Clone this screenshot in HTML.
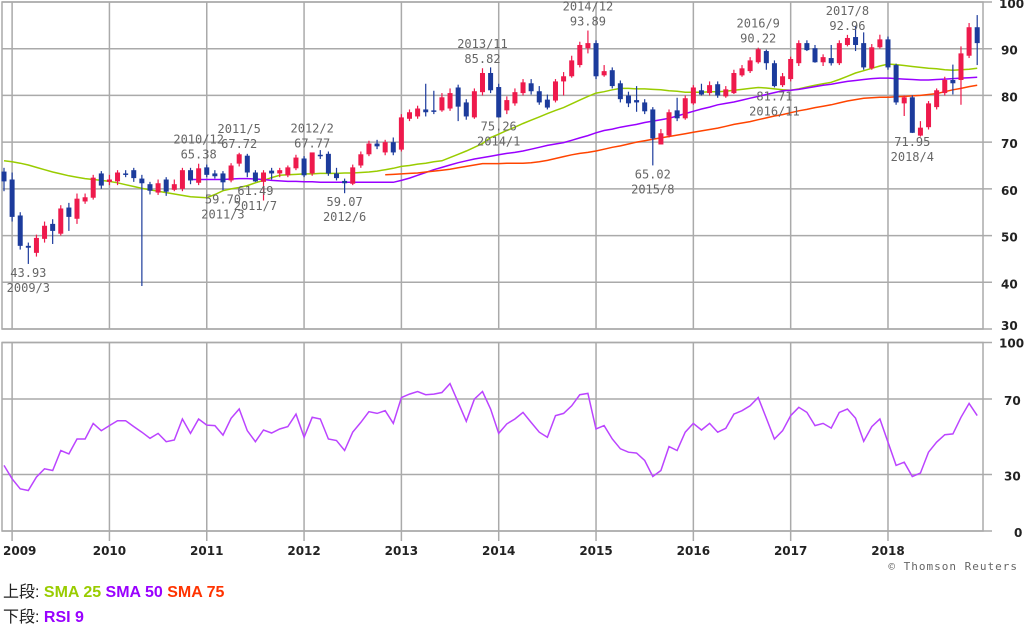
<!DOCTYPE html>
<html><head><meta charset="utf-8">
<style>
html,body{margin:0;padding:0;background:#fff;width:1024px;height:627px;overflow:hidden}
svg{display:block}
.ax{font-family:"DejaVu Sans","Liberation Sans",sans-serif;font-size:12px;fill:#222;font-weight:bold}
.ann{font-family:"DejaVu Sans Mono","Liberation Mono",monospace;font-size:12px;fill:#666}
.leg{font-family:"Liberation Sans","Noto Sans CJK JP",sans-serif;font-size:16px;font-weight:bold}
</style></head>
<body>
<svg id="chart" width="1024" height="627" xmlns="http://www.w3.org/2000/svg">
<g id="grid"></g>
<g id="mas"></g>
<g id="candles"></g>
<g id="rsi"></g>
<g id="anns"></g>
<g id="axes"></g>
<text x="1018" y="570" text-anchor="end" class="ann" style="font-size:11px;letter-spacing:1px">© Thomson Reuters</text>
<text x="3" y="597" class="leg"><tspan fill="#222" font-weight="normal">上段: </tspan><tspan fill="#99cc00">SMA 25</tspan><tspan fill="#9900ff">  SMA 50</tspan><tspan fill="#ff3300">  SMA 75</tspan></text>
<text x="3" y="622" class="leg"><tspan fill="#222" font-weight="normal">下段: </tspan><tspan fill="#9900ff">RSI 9</tspan></text>
</svg>
<script>
// monthly candles Dec 2008 .. Dec 2018
const openV=[63.7,62,54.3,47.8,46.3,49.3,52.5,50.4,56,53.6,57.3,58.1,63.3,61.5,61.6,63.3,64,62.2,61,59.2,62,59.8,60,64,61.3,64.6,63.3,63.3,61.8,65.4,67.1,63.5,61.5,63.9,63.3,62.9,64.4,66.5,63.3,67.3,67.5,63.3,61.7,61.1,65,67.4,69.7,67.8,70,68.4,75,75.5,77,76.8,76.8,77.2,81.7,78.5,75.3,80.7,84.8,81.8,76.8,78.3,80.5,82.6,80.9,79.1,78.9,83,84.1,86.5,90.1,91.2,84.3,85.4,82.6,80,79,78.5,77,69.5,71.4,76.8,75.1,78.3,81.1,80.5,82.4,79.8,80.5,84.3,85.2,87.1,89.5,86.9,82.2,83.5,86.9,91.2,90.1,87.1,88,86.9,90.8,92.5,91.2,85.8,90.3,92,86.5,78.3,79.6,71.4,73.2,77.5,80.5,83.3,83.3,88.5,94.6];
const closeV=[61.6,54,47.8,47.4,49.5,52.1,51,55.8,54,57.9,58.2,62.4,60.7,62,63.5,63,62.3,61.2,59.6,61.2,59.4,61,64,61.8,64.4,63,62.7,61.4,65,67.4,63.5,61.6,63.5,63.3,64,64.6,66.7,62.9,67.8,67,63.3,62.3,61.2,64.6,67.4,69.7,69.1,70,67.8,75.3,76.4,77.2,76.4,76.6,79.6,80.5,77.6,75.5,80.9,84.8,81.1,75.3,79,80.7,82.8,80.9,78.5,77.4,83,84.1,87.5,90.8,91.2,84.1,85.2,82,79.2,78.3,78.5,76.6,70.8,71.9,76.4,75.1,79.4,81.7,80.2,82.2,80,81.3,84.8,85.8,87.5,89.9,86.9,82,84.1,87.8,91.2,89.7,87.1,88.2,86.9,91.2,92.3,90.8,86,90.3,92,86,78.5,79.6,72,73.1,78.3,81.1,83.3,82.6,89,94.6,91.2];
const highV=[64.5,63.5,55,48.5,50.2,53,53.5,56.5,57,59,59,63,63.8,63,64,64,64.5,63,61.5,62,62.5,62,64.5,64.5,65.38,65.2,64,63.8,65.5,67.72,67.5,64,64,64.5,64.5,65,67.3,67,67.77,68.3,68,64.5,62.2,65.2,68,70.3,70.5,70.5,71,76,77,77.8,82.5,81,80.5,81.5,82.3,79.2,81.5,85.82,86,82.5,79.8,81.5,83.5,83.5,82,80.2,83.5,85,88.5,91.5,93.89,91.8,86.5,86,83.2,80.8,82,79.2,77.5,72.8,77,79.5,80,82.2,82.5,83,83,82,85.5,86.5,88.2,90.22,89.8,87.5,84.8,88.3,91.8,91.8,90.8,88.8,90.8,91.8,92.96,94.8,93.5,91,93,92.6,86.8,80,80,74.5,78.8,81.5,84,86.6,90.5,95.5,97.2];
const lowV=[59.5,53,47,43.93,45.5,48.5,48.2,50,51,52.5,56.8,57.7,60,60.8,60.8,62.5,61.5,39.2,58.8,58.7,58.5,59.5,59.5,61,60.8,62.5,62.2,59.70,61.4,64.8,62.5,61.49,57.5,62,62.5,62.5,64,62.5,62.8,66.4,62.8,61.8,59.07,60.8,64.5,67,68.5,67.2,67.2,68,74.5,75,75.5,76,76.5,76.7,74.5,74.8,75,80,80.5,75.26,76,77.8,80,80.2,78,77,78.5,80,83.8,86,89,83.5,84,81.5,78.5,77.5,76.5,76,65.02,69.5,71,74.5,74.8,78,80,80,79.5,79.5,80.3,84,84.8,86.8,85.5,81.71,81.8,83,86.3,89.5,87,86.3,86.4,86.5,90.5,89.5,85.5,85.5,90,85.5,78,75.6,71.95,71.2,72.7,77,80,80.2,78,88,86.5];
const sma25=[66,65.8,65.5,65.1,64.6,64.1,63.6,63.2,62.8,62.5,62.2,62,61.8,61.6,61.3,60.9,60.5,60.1,59.8,59.5,59.2,58.9,58.6,58.3,58.2,58.1,58.8,59.6,60,60.3,60.7,61.3,61.8,62.4,62.9,63,63.1,63.2,63.2,63.3,63.3,63.3,63.4,63.4,63.5,63.6,63.8,64.1,64.4,64.8,65,65.3,65.5,65.8,66,66.7,67.4,68.1,68.9,69.7,71,71.7,72.5,73.2,74,74.7,75.4,76.1,76.8,77.4,78.2,79,79.8,80.5,80.8,81.2,81.5,81.5,81.4,81.4,81.3,81.2,81,80.9,80.7,80.7,80.7,80.8,80.8,80.9,81.1,81.3,81.5,81.7,81.6,81.4,81.2,81.1,81.4,81.8,82.2,82.5,82.8,83.4,84.1,84.8,85.3,85.8,86.3,86.7,86.6,86.4,86.2,86,85.8,85.7,85.5,85.4,85.5,85.6,85.8];
const sma50=[null,null,null,null,null,null,null,null,null,null,null,null,null,null,null,null,null,null,null,null,null,null,null,62,62,62,62,62,62.1,62.2,62.2,62.1,62,61.8,61.7,61.6,61.6,61.5,61.5,61.4,61.4,61.4,61.4,61.4,61.4,61.4,61.4,61.4,61.4,61.8,62.3,62.9,63.5,64.1,64.6,65.1,65.6,66,66.4,66.7,67,67.3,67.6,67.8,68.1,68.5,68.9,69.3,69.6,69.9,70.4,70.9,71.4,72,72.5,72.8,73.2,73.5,73.8,74.2,74.5,74.8,75.1,75.6,76.1,76.6,77.1,77.5,78,78.3,78.6,79,79.4,79.8,80.2,80.6,81,81.1,81.3,81.6,81.9,82.2,82.4,82.7,83,83.2,83.4,83.6,83.7,83.7,83.6,83.5,83.4,83.3,83.3,83.4,83.5,83.6,83.7,83.8,83.9];
const sma75=[null,null,null,null,null,null,null,null,null,null,null,null,null,null,null,null,null,null,null,null,null,null,null,null,null,null,null,null,null,null,null,null,null,null,null,null,null,null,null,null,null,null,null,null,null,null,null,63,63.1,63.2,63.3,63.4,63.6,63.8,64,64.2,64.5,64.8,65.1,65.4,65.4,65.4,65.5,65.5,65.5,65.6,65.8,66.1,66.5,66.9,67.3,67.6,67.8,68.1,68.5,68.9,69.2,69.6,70,70.3,70.6,70.9,71.2,71.5,71.8,72.1,72.4,72.7,73,73.4,73.8,74.1,74.4,74.8,75.2,75.6,75.9,76.3,76.7,77,77.4,77.7,78,78.4,78.8,79.1,79.4,79.5,79.6,79.6,79.7,79.8,79.9,80,80.2,80.4,80.8,81.2,81.5,81.9,82.2];
const rsi9=[34.8,27.7,22.4,21.5,28.6,33,32.1,42.7,40.9,48.8,48.8,57.1,53.2,55.9,58.5,58.5,55.4,52.4,49.2,51.8,47.4,48.3,59.4,51.8,59.4,56.2,55.9,50.9,59.8,64.7,53.2,47.4,53.6,52,54.1,55.4,62,49.7,60.3,59.4,48.8,48,42.7,52.4,57.6,63.3,62.4,63.8,57.1,70.8,72.6,74,72.3,72.6,73.5,78.2,68.2,58.2,70,74,64.7,51.8,56.8,59.4,62.9,57.6,52.4,49.7,61.2,62.4,66.4,72.3,73,54.1,55.9,48.8,43.6,41.8,41.3,37.4,28.9,32.1,44.8,42.7,52.4,57.1,53.6,57.1,52.4,54.5,62,63.8,66.4,70.8,59.9,48.8,53.2,61.2,65.6,62.9,55.9,57.1,54.6,62.9,64.7,59.9,47.6,55.4,59.4,47.1,34.8,36.5,28.9,30.7,41.8,47.1,51.1,51.5,60.3,67.7,61.2];
const years=["2009","2010","2011","2012","2013","2014","2015","2016","2017","2018"];
const priceTicks=[100,90,80,70,60,50,40,30];
const rsiTicks=[100,70,30,0];
const annots=[[3,"43.93","2009/3",1],[24,"2010/12","65.38",0],[29,"2011/5","67.72",0],[27,"59.70","2011/3",1],[31,"61.49","2011/7",1],[38,"2012/2","67.77",0],[42,"59.07","2012/6",1],[59,"2013/11","85.82",0],[61,"75.26","2014/1",1],[72,"2014/12","93.89",0],[80,"65.02","2015/8",1],[93,"2016/9","90.22",0],[95,"81.71","2016/11",1],[104,"2017/8","92.96",0],[112,"71.95","2018/4",1]];

const NS="http://www.w3.org/2000/svg";
const L=2,R=983,T=2,B=329,RT=342.5,RB=531;
const xm=i=>4+8.11*i;
const yp=v=>B-(v-30)*(B-T)/70;
const yr=v=>RB-v*(RB-RT)/100;
function mk(tag,attrs,parent){const e=document.createElementNS(NS,tag);for(const k in attrs)e.setAttribute(k,attrs[k]);parent.appendChild(e);return e;}
const G=document.getElementById('grid'),A=document.getElementById('axes');
// panels
let e;
e=mk('rect',{x:L,y:T,width:R-L,height:B-T,fill:'none',stroke:'#aaa','stroke-width':1.5},G);


e=mk('rect',{x:L,y:RT,width:R-L,height:RB-RT,fill:'none',stroke:'#aaa','stroke-width':1.5},G);


years.forEach((y,k)=>{const x=xm(1+12*k);
 e=mk('line',{x1:x,x2:x,y1:T,y2:B,stroke:'#aaa','stroke-width':1.5},G);
 
 
 e=mk('line',{x1:x,x2:x,y1:RT,y2:RB+10,stroke:'#aaa','stroke-width':1.5},G);
 
 
 const t=mk('text',{x:k==0?3:x,y:555,'text-anchor':k==0?'start':'middle',class:'ax'},A);t.textContent=y;
 
 
});
priceTicks.forEach(v=>{const y=yp(v);
 e=mk('line',{x1:L,x2:R+9,y1:y,y2:y,stroke:'#aaa','stroke-width':1.5},G);
 
 
 const t=mk('text',{x:v==100?999:1001,y:v==30?y+1:y+6,class:'ax'},A);t.textContent=v;
 
 
});
rsiTicks.forEach(v=>{const y=yr(v);
 e=mk('line',{x1:L,x2:R+9,y1:y,y2:y,stroke:'#aaa','stroke-width':1.5},G);
 
 
 const t=mk('text',{x:v==100?999:(v==0?1014:1004),y:v==100?y+5:y+6,class:'ax'},A);t.textContent=v;
 
 
});
// moving averages
const M=document.getElementById('mas');
[[sma25,'#99cc00','sma25-line'],[sma50,'#9900ff','sma50-line'],[sma75,'#ff4400','sma75-line']].forEach(([arr,c,n])=>{
 let d='';arr.forEach((v,i)=>{if(v==null)return;d+=(d?'L':'M')+xm(i).toFixed(1)+','+yp(v).toFixed(1);});
 const p=mk('path',{d:d,fill:'none',stroke:c,'stroke-width':1.5},M);
 
 
});
// candles
const C=document.getElementById('candles');
openV.forEach((o,i)=>{const c=closeV[i];const up=c>=o;const col=up?'#ee1a4c':'#1c3b9c';const x=xm(i);
 const g=mk('g',{},C);
 
 
 mk('line',{x1:x,x2:x,y1:yp(highV[i]),y2:yp(lowV[i]),stroke:col,'stroke-width':1.2},g);
 const t=yp(Math.max(o,c)),b=yp(Math.min(o,c));
 mk('rect',{x:x-2.5,y:t,width:5,height:Math.max(b-t,1.5),fill:col},g);
});
// RSI
const RS=document.getElementById('rsi');
let d='';rsi9.forEach((v,i)=>{d+=(i?'L':'M')+xm(i).toFixed(1)+','+yr(v).toFixed(1);});
e=mk('path',{d:d,fill:'none',stroke:'#bb44ff','stroke-width':1.5},RS);


// annotations
const AN=document.getElementById('anns');
annots.forEach(([i,a,b,below])=>{const x=xm(i);
 let y1;if(below){y1=yp(lowV[i])+13;}else{y1=yp(highV[i])-20;}
 const t1=mk('text',{x:x,y:y1,'text-anchor':'middle',class:'ann'},AN);t1.textContent=a;
 
 
 const t2=mk('text',{x:x,y:y1+15,'text-anchor':'middle',class:'ann'},AN);t2.textContent=b;
 
 
});
</script>
</body></html>
